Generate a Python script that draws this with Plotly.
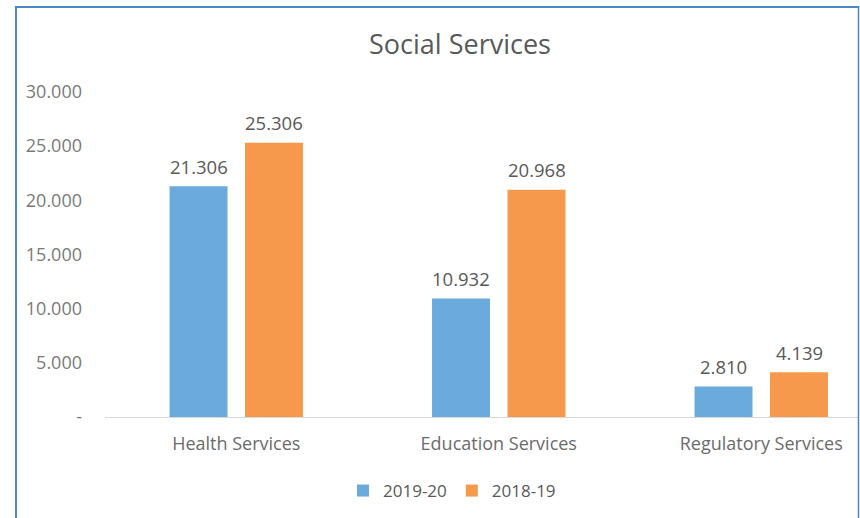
import plotly.graph_objects as go

categories = ["Health Services", "Education Services", "Regulatory Services"]
series_names = ["2019-20", "2018-19"]
values_2019_20 = [21306, 10932, 2810]
values_2018_19 = [25306, 20968, 4139]
y_tick_vals = [0, 5000, 10000, 15000, 20000, 25000, 30000]
y_tick_text = ["-", "5.000", "10.000", "15.000", "20.000", "25.000", "30.000"]

BLUE = "#6AAADC"
ORANGE = "#F6994C"
TEXT = "#595959"
FONT = "Open Sans, sans-serif"

fig = go.Figure()
fig.add_trace(go.Bar(name=series_names[0], x=categories, y=values_2019_20,
                     marker=dict(color=BLUE, line=dict(width=0))))
fig.add_trace(go.Bar(name=series_names[1], x=categories, y=values_2018_19,
                     marker=dict(color=ORANGE, line=dict(width=0))))

# data labels
def fmt(v):
    return f"{v:,}".replace(",", ".")

for vals, shift in [(values_2019_20, -37.75), (values_2018_19, 37.75)]:
    for c, v in zip(categories, vals):
        fig.add_annotation(x=c, y=v, xref="x", yref="y", text=fmt(v),
                           showarrow=False, xshift=shift, yshift=20,
                           yanchor="middle",
                           font=dict(family=FONT, size=18.5, color=TEXT))

L, R, T, B = 105, 858, 92, 417
W, H = 860, 518
pw, ph = R - L, B - T

def px_x(px):
    return (px - L) / pw

def px_y(py):
    return (B - py) / ph

# frame
frame_col = "#4A88C6"
fig.add_shape(type="line", xref="paper", yref="paper", x0=px_x(15), x1=px_x(859),
              y0=px_y(7), y1=px_y(7), line=dict(color=frame_col, width=2))
fig.add_shape(type="line", xref="paper", yref="paper", x0=px_x(16), x1=px_x(16),
              y0=px_y(6), y1=px_y(520), line=dict(color=frame_col, width=2))
fig.add_shape(type="line", xref="paper", yref="paper", x0=px_x(858.5), x1=px_x(858.5),
              y0=px_y(6), y1=px_y(520), line=dict(color=frame_col, width=1.5))

fig.update_layout(
    width=W, height=H,
    margin=dict(l=L, r=W - R, t=T, b=H - B, autoexpand=False),
    paper_bgcolor="white", plot_bgcolor="rgba(0,0,0,0)",
    barmode="group", bargap=0.425, bargroupgap=0.232,
    title=dict(text="Social Services", x=460 / W, xanchor="center",
               y=1 - 45 / H, yanchor="middle", xref="container", yref="container",
               font=dict(family=FONT, size=27, color=TEXT)),
    font=dict(family=FONT, color=TEXT),
    showlegend=True,
    legend=dict(orientation="h", x=px_x(452), xanchor="center", y=px_y(491), yanchor="middle",
                font=dict(family=FONT, size=17, color=TEXT), itemwidth=30,
                bgcolor="rgba(0,0,0,0)", traceorder="normal"),
    xaxis=dict(range=[-0.5, -0.5 + pw / 262.5], showgrid=False, zeroline=False,
               showline=True, linecolor="#D9D9D9", linewidth=1,
               tickfont=dict(family=FONT, size=18, color="#6b6b6b"),
               ticks="", ticklabelstandoff=10, fixedrange=True),
    yaxis=dict(range=[0, 30000], tickvals=y_tick_vals, ticktext=y_tick_text,
               showgrid=False, zeroline=False, showline=False,
               tickfont=dict(family=FONT, size=18, color="#7a7a7a"),
               ticks="", ticklabelstandoff=22, fixedrange=True),
)

fig.write_html("out.html", config={"displayModeBar": False},
               post_script="document.body.style.margin='0';document.body.style.overflow='hidden';")
